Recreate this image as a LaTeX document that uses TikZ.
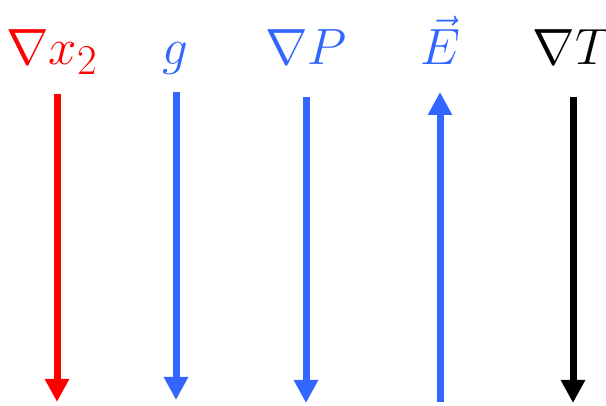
\documentclass[tikz,border=0pt]{standalone}
\usetikzlibrary{arrows.meta}
\definecolor{myblue}{RGB}{51,102,255}
\definecolor{myred}{RGB}{255,0,0}
\begin{document}
\begin{tikzpicture}[x=1pt,y=1pt,
  lab/.style={anchor=base,inner sep=0pt,font=\Huge,scale=2.05},
  vec/.style={line width=7pt,-{Triangle[width=23pt,length=23pt]}}]
\useasboundingbox (0,0) rectangle (606,406);
\node[lab,text=myred] (l1) at (52,341) {$\nabla x_2$};
\node[lab,text=myblue] (l2) at (175,341) {$g$};
\node[lab,text=myblue] (l3) at (306,341) {$\nabla P$};
\node[lab,text=myblue] (l4) at (440,341) {$\vec{E}$};
\node[lab,text=black] (l5) at (572,341) {$\nabla T$};
\coordinate (a1) at (57,312); \coordinate (b1) at (57,4);
\coordinate (a2) at (176,314); \coordinate (b2) at (176,6);
\coordinate (a3) at (306,309); \coordinate (b3) at (306,3);
\coordinate (a4) at (440,4); \coordinate (b4) at (440,314);
\coordinate (a5) at (573,309); \coordinate (b5) at (573,3);
\draw[vec,myred] (a1) -- (b1);
\draw[vec,myblue] (a2) -- (b2);
\draw[vec,myblue] (a3) -- (b3);
\draw[vec,myblue] (a4) -- (b4);
\draw[vec,black] (a5) -- (b5);
\end{tikzpicture}
\end{document}
